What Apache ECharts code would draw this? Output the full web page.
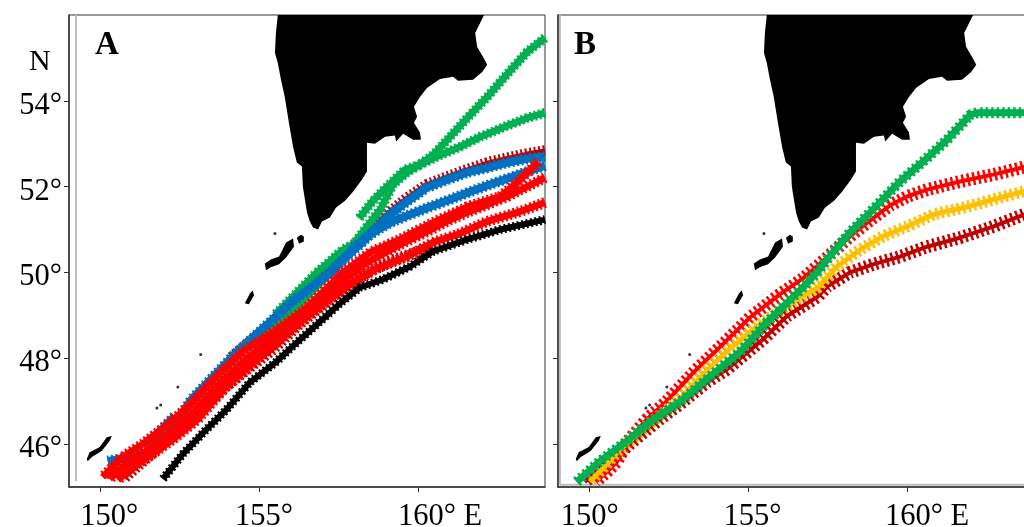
<!DOCTYPE html>
<html><head><meta charset="utf-8">
<style>html,body{margin:0;padding:0;background:#fff}#c{width:1024px;height:527px}</style>
<script src="https://cdn.jsdelivr.net/npm/echarts@6/dist/echarts.min.js"></script>
</head><body><div id="c"></div>
<script>
// Values: [longitude E, latitude N]
const xTicks = [150, 155, 160];
const yTicks = [46, 48, 50, 52, 54];

const kamchatka = [[155.58,56],[155.52,55.58],[155.49,55.12],[155.58,54.88],[155.68,54.49],[155.80,54.09],[155.93,53.49],[156.06,52.93],[156.18,52.56],[156.34,52.47],[156.37,52.0],[156.50,51.40],[156.59,51.19],[156.69,51.05],[156.85,51.0],[156.97,51.19],[157.22,51.28],[157.41,51.51],[157.70,51.67],[157.95,51.88],[158.23,52.16],[158.39,52.35],[158.39,53.02],[158.64,53.0],[158.96,53.16],[159.27,53.19],[159.31,53.05],[159.53,53.23],[159.84,53.09],[160.09,53.09],[160.06,53.26],[159.87,53.49],[159.97,53.63],[159.87,53.86],[160.06,54.09],[160.28,54.30],[160.69,54.51],[161.10,54.56],[161.26,54.47],[161.73,54.49],[162.02,54.67],[162.18,54.84],[162.05,55.02],[161.86,55.26],[161.80,55.58],[162.08,56]];
const paramushir = [[155.17,50.21],[155.36,50.30],[155.62,50.37],[155.84,50.70],[156.06,50.79],[156.09,50.60],[155.84,50.35],[155.62,50.19],[155.36,50.12],[155.21,50.05]];
const shumshu = [[156.18,50.81],[156.31,50.88],[156.40,50.84],[156.40,50.72],[156.25,50.67]];
const onekotan = [[154.54,49.28],[154.70,49.51],[154.79,49.58],[154.83,49.47],[154.67,49.26]];
const iturup = [[149.56,45.65],[149.65,45.81],[149.97,45.93],[150.19,46.16],[150.35,46.19],[150.28,46.07],[150.03,45.84],[149.72,45.70],[149.59,45.60]];
const islets = [[153.15,48.09],[152.43,47.33],[151.89,46.91],[151.77,46.84],[155.49,50.91]];

// Panel A
const aBlack = [[151.96,45.19],[152.59,45.77],[153.34,46.35],[153.97,46.81],[154.70,47.44],[155.55,47.93],[156.18,48.37],[157.16,49.02],[157.54,49.28],[158.17,49.65],[158.90,49.84],[159.75,50.14],[160.47,50.49],[161.55,50.77],[162.59,51.00],[164.0,51.23]];
const aGreen1 = [[164.0,55.47],[163.44,55.14],[162.84,54.65],[162.18,54.09],[161.55,53.60],[161.01,53.16],[160.47,52.74],[159.97,52.47],[159.65,52.33],[159.21,52.05],[158.83,51.49],[158.39,51.07],[157.98,50.67],[157.63,50.53],[157.22,50.26],[156.81,50.0],[156.18,49.53],[155.49,49.02]];
const aGreen2 = [[164.0,53.72],[163.44,53.60],[162.81,53.42],[161.96,53.16],[161.32,52.93],[160.60,52.70],[160.06,52.51],[159.59,52.40],[158.93,51.93],[158.58,51.67],[158.14,51.26]];
const aGreen3 = [[157.16,49.95],[156.28,49.26],[155.87,48.98],[155.11,48.40]];
const aDarkRed1 = [[164.0,52.84],[163.44,52.77],[162.81,52.67],[162.18,52.56],[161.55,52.40],[160.91,52.23],[160.28,52.05],[159.65,51.74],[159.12,51.42],[158.58,51.07],[158.17,50.77],[157.54,50.35],[156.28,49.49],[155.33,48.79],[154.07,48.0]];
const aDarkRed2 = [[150.76,45.23],[152.40,46.30],[153.12,46.78],[153.97,47.36],[154.61,47.74],[155.43,48.21],[156.28,48.81],[156.91,49.19],[157.63,49.60],[158.39,50.0],[159.21,50.28],[160.47,50.60]];
const aBlue1 = [[164.0,52.70],[163.44,52.65],[162.81,52.56],[162.18,52.44],[161.55,52.33],[160.91,52.16],[160.28,51.98],[159.65,51.65],[159.12,51.35],[158.64,51.00],[158.17,50.65],[157.54,50.23],[157.16,49.95],[156.06,49.33],[155.02,48.63],[154.16,48.05],[153.38,47.44],[152.87,47.05],[152.43,46.58],[152.11,46.21],[151.70,45.88],[151.07,45.72],[150.22,45.60]];
const aBlue2 = [[164.0,52.49],[163.44,52.35],[162.90,52.21],[162.27,52.05],[161.64,51.88],[161.01,51.70],[160.38,51.53],[159.75,51.35],[159.21,51.19],[158.86,51.05],[158.49,50.88],[158.01,50.60],[157.54,50.23],[157.16,49.95]];
const aBlue3 = [[152.33,46.65],[151.61,46.12],[151.39,46.0]];
const aRed1 = [[163.79,52.58],[163.12,52.09],[162.59,51.77],[161.55,51.53],[160.47,51.16],[159.43,50.77],[158.49,50.47],[157.63,50.0],[157.00,49.54],[156.37,49.10],[155.43,48.60],[154.48,48.16],[153.63,47.56],[152.74,46.86],[152.02,46.40],[151.32,46.0],[150.69,45.70],[150.06,45.23]];
const aRed2 = [[164.0,52.21],[163.44,52.0],[162.81,51.77],[162.18,51.58],[161.55,51.40],[160.91,51.19],[160.28,50.95],[159.43,50.65],[158.39,50.23],[157.54,49.77],[156.81,49.26],[156.53,49.05],[155.58,48.53],[154.64,48.02],[153.79,47.44],[152.90,46.72],[152.18,46.26],[151.48,45.86],[150.85,45.56],[150.28,45.19]];
const aRed3 = [[164.0,51.63],[163.22,51.42],[162.18,51.19],[161.23,50.88],[160.47,50.70],[159.65,50.37],[158.71,50.10],[157.85,49.72],[156.91,49.21],[156.28,48.84],[155.65,48.44],[154.79,47.88],[153.94,47.33],[153.06,46.58],[152.33,46.14],[151.64,45.77],[151.01,45.47],[150.54,45.16]];
const aFrame = [[149.22,56],[149.22,45.14]];

// Panel B
const bGreen = [[149.59,45.12],[150.32,45.60],[151.17,46.07],[151.89,46.51],[152.84,46.98],[153.88,47.63],[154.73,48.14],[155.58,48.84],[156.40,49.42],[156.72,49.65],[157.19,50.02],[157.48,50.30],[158.20,50.93],[158.93,51.47],[159.78,52.12],[160.50,52.58],[161.26,53.09],[161.99,53.67],[162.21,53.72],[164.0,53.72]];
const bRed = [[164.0,52.51],[162.71,52.28],[161.67,52.12],[160.63,51.93],[160.0,51.77],[159.46,51.56],[158.83,51.21],[158.20,50.84],[157.48,50.35],[157.19,50.16],[156.72,49.86],[155.99,49.49],[155.05,48.95],[154.20,48.33],[153.31,47.70],[152.43,47.0],[151.80,46.58],[151.20,46.07],[150.85,45.58],[150.54,45.35],[150.19,45.12]];
const bYellow = [[164.0,51.95],[162.71,51.70],[161.89,51.53],[160.82,51.35],[160.0,51.07],[159.24,50.84],[158.52,50.53],[157.79,50.14],[157.19,49.65],[156.53,49.37],[155.27,48.74],[154.51,48.28],[153.79,47.79],[152.84,47.05],[151.89,46.47],[150.95,45.88],[150.47,45.47],[150.0,45.12]];
const bDarkRed = [[164.0,51.44],[162.71,51.07],[161.67,50.81],[160.63,50.60],[159.78,50.37],[158.93,50.19],[158.20,50.0],[157.48,49.67],[157.19,49.44],[156.21,48.98],[155.46,48.44],[154.32,47.74],[153.69,47.44],[152.84,46.93],[152.21,46.58],[151.26,46.0],[150.47,45.47],[149.84,45.12]];
const bFrameV = [[149.06,56],[149.06,45.05]];
const bFrameH = [[149.06,45.05],[164,45.05]];

const BLACK='#000000', RED='#FF0000', DARK='#C00000', BLUE='#0070C0', GREEN='#00B050', YELLOW='#FFC000';
const FONT = '"Liberation Serif","Times New Roman",serif';
const FS = 30.5;

function land(data, i){
  return {type:'custom', name:'land', xAxisIndex:i, yAxisIndex:i, silent:true, z:1, clip:true,
    coordinateSystem:'cartesian2d', data, encode:{x:0,y:1},
    renderItem(params, api){
      if(params.context.done) return; params.context.done = true;
      return {type:'polygon', shape:{points:data.map(p=>api.coord(p))}, style:{fill:'#000'}};
    }};
}
function track(data, color, i, z, core, comb, dash){
  const base = {type:'line', xAxisIndex:i, yAxisIndex:i, data, showSymbol:false, silent:true,
    clip:false, animation:false};
  return [
    Object.assign({}, base, {z, lineStyle:{color, width:core, join:'round', cap:'butt'}}),
    Object.assign({}, base, {z, lineStyle:{color, width:comb, type:dash||[2,2.5], join:'bevel', cap:'butt'}})
  ];
}
function thinLine(data, i){
  return {type:'line', xAxisIndex:i, yAxisIndex:i, data, showSymbol:false, silent:true, clip:false, z:1,
    lineStyle:{color:'#BDBDBD', width:2}};
}
function xAxis(i, rich, labelOf){
  return {type:'value', gridIndex:i, min:149, max:164, position:'bottom',
    splitLine:{show:false},
    axisLine:{show:true, onZero:false, lineStyle:{color:'#333', width:1.5}},
    axisTick:{show:true, length:5, customValues:xTicks, lineStyle:{color:'#333'}},
    axisLabel:{show:true, customValues:xTicks, margin:14, color:'#000', fontFamily:FONT, fontSize:FS,
      formatter:labelOf, rich}};
}
function yAxis(i, labelled){
  return {type:'value', gridIndex:i, min:45, max:56, position:'left',
    splitLine:{show:false},
    axisLine:{show:true, onZero:false, lineStyle:{color:'#333', width:1.5}},
    axisTick:{show:true, length:5, customValues:yTicks, lineStyle:{color:'#333'}},
    axisLabel:{show:labelled, customValues:yTicks, margin:7, color:'#000', fontFamily:FONT, fontSize:FS,
      verticalAlign:'top', lineHeight:10, formatter:v=>v+'°'}};
}
const richOf = (a,b,c)=>{
  const s = p=>({padding:[0,0,0,p], fontFamily:FONT, fontSize:FS, color:'#000'});
  return {a:s(a), b:s(b), c:s(c)};
};
const labelOf = v => v===150 ? '{a|150°}' : v===155 ? '{b|155°}' : '{c|160° E}';

const series = [
  land(kamchatka,0), land(paramushir,0), land(shumshu,0), land(onekotan,0), land(iturup,0),
  land(kamchatka,1), land(paramushir,1), land(shumshu,1), land(onekotan,1), land(iturup,1),
  {type:'scatter', xAxisIndex:0, yAxisIndex:0, data:islets, symbolSize:3, itemStyle:{color:'#000'}, silent:true, z:1},
  {type:'scatter', xAxisIndex:1, yAxisIndex:1, data:islets, symbolSize:3, itemStyle:{color:'#000'}, silent:true, z:1},
  thinLine(aFrame,0), thinLine(bFrameV,1), thinLine(bFrameH,1),
  ...track(aDarkRed1,DARK,0,3,4,11),
  ...track(aDarkRed2,DARK,0,3,4,12),
  ...track(aGreen1,GREEN,0,4,7,10),
  ...track(aGreen2,GREEN,0,4,7,10),
  ...track(aGreen3,GREEN,0,4,7,10),
  ...track(aBlue1,BLUE,0,5,8,11),
  ...track(aBlue2,BLUE,0,5,8,11),
  ...track(aBlue3,BLUE,0,5,8,11),
  ...track(aRed3,RED,0,6,7,11),
  ...track(aRed2,RED,0,6,7,11),
  ...track(aRed1,RED,0,6,7,11),
  ...track(aBlack,BLACK,0,7,6,9),
  ...track(bDarkRed,DARK,1,2,4,13,[2.5,3]),
  ...track(bRed,RED,1,3,4,13,[2.5,3]),
  ...track(bYellow,YELLOW,1,4,5,12,[2.5,3]),
  ...track(bGreen,GREEN,1,5,7,11,[2.5,3])
].flat();

const chart = echarts.init(document.getElementById('c'), null, {renderer:'canvas'});
chart.setOption({
  backgroundColor:'#fff', animation:false,
  grid:[
    {left:69, top:15, width:476, height:472, show:true, borderColor:'#333', borderWidth:1, containLabel:false, outerBoundsMode:'none'},
    {left:558, top:15, width:476, height:472, show:true, borderColor:'#333', borderWidth:1, containLabel:false, outerBoundsMode:'none'}
  ],
  xAxis:[xAxis(0, richOf(17,9,44), labelOf), xAxis(1, richOf(0,8,40), labelOf)],
  yAxis:[yAxis(0,true), yAxis(1,false)],
  series,
  graphic:[
    {type:'text', left:29, top:47, style:{text:'N', fontFamily:FONT, fontSize:30, fill:'#000'}},
    {type:'text', left:95, top:29, style:{text:'A', fontFamily:FONT, fontSize:33, fontWeight:'bold', fill:'#000'}},
    {type:'text', left:574, top:29, style:{text:'B', fontFamily:FONT, fontSize:33, fontWeight:'bold', fill:'#000'}}
  ]
});
</script></body></html>
